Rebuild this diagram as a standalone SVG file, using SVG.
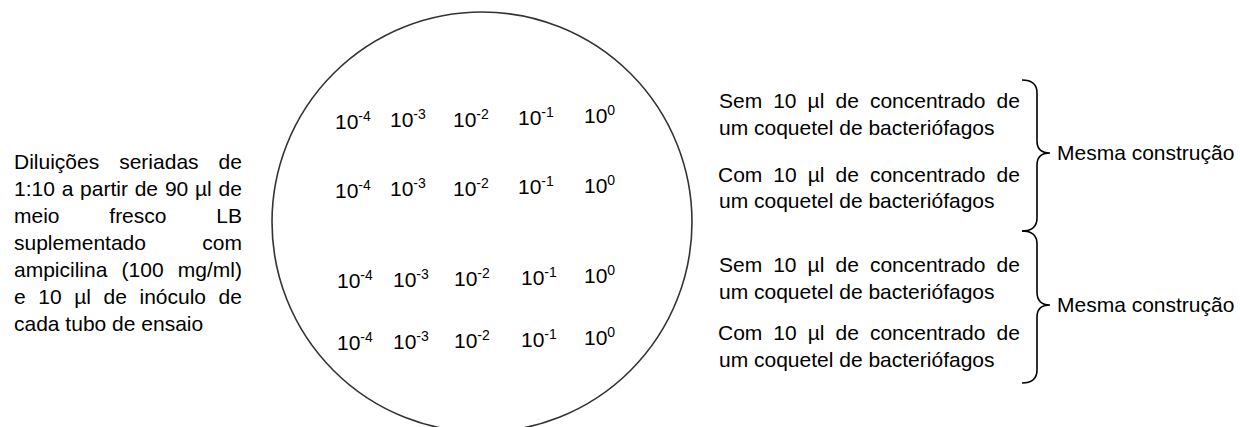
<svg xmlns="http://www.w3.org/2000/svg" width="1240" height="427" viewBox="0 0 1240 427">
<style>
text{font-family:"Liberation Sans",Arial,sans-serif;font-size:21px;fill:#000}
.sup{font-size:14px}
.plate{fill:none;stroke:#333;stroke-width:1.6}
.brace{fill:none;stroke:#000;stroke-width:1.6}
</style>
<rect width="1240" height="427" fill="#fff"/>
<g id="plate">
<circle class="plate" cx="482" cy="222" r="210"/>
</g>
<g id="dilutions">
<text x="335" y="129">10<tspan class="sup" dy="-8">-4</tspan></text>
<text x="390" y="127">10<tspan class="sup" dy="-8">-3</tspan></text>
<text x="453" y="127">10<tspan class="sup" dy="-8">-2</tspan></text>
<text x="518" y="125">10<tspan class="sup" dy="-8">-1</tspan></text>
<text x="584" y="123">10<tspan class="sup" dy="-8">0</tspan></text>
<text x="335" y="198">10<tspan class="sup" dy="-8">-4</tspan></text>
<text x="390" y="196">10<tspan class="sup" dy="-8">-3</tspan></text>
<text x="453" y="196">10<tspan class="sup" dy="-8">-2</tspan></text>
<text x="518" y="194">10<tspan class="sup" dy="-8">-1</tspan></text>
<text x="584" y="193">10<tspan class="sup" dy="-8">0</tspan></text>
<text x="337" y="288">10<tspan class="sup" dy="-8">-4</tspan></text>
<text x="393" y="287">10<tspan class="sup" dy="-8">-3</tspan></text>
<text x="454" y="286">10<tspan class="sup" dy="-8">-2</tspan></text>
<text x="521" y="285">10<tspan class="sup" dy="-8">-1</tspan></text>
<text x="584" y="283">10<tspan class="sup" dy="-8">0</tspan></text>
<text x="337" y="350">10<tspan class="sup" dy="-8">-4</tspan></text>
<text x="393" y="349">10<tspan class="sup" dy="-8">-3</tspan></text>
<text x="454" y="348">10<tspan class="sup" dy="-8">-2</tspan></text>
<text x="521" y="347">10<tspan class="sup" dy="-8">-1</tspan></text>
<text x="584" y="345">10<tspan class="sup" dy="-8">0</tspan></text>
</g>
<g id="left-note">
<text y="169"><tspan x="14">Diluições</tspan><tspan x="119.2">seriadas</tspan><tspan x="218.6">de</tspan></text>
<text y="196"><tspan x="14">1:10</tspan><tspan x="61.7">a</tspan><tspan x="80.1">partir</tspan><tspan x="134.7">de</tspan><tspan x="164.9">90</tspan><tspan x="195">µl</tspan><tspan x="218.6">de</tspan></text>
<text y="223"><tspan x="14">meio</tspan><tspan x="109.3">fresco</tspan><tspan x="216.3">LB</tspan></text>
<text y="250"><tspan x="14">suplementado</tspan><tspan x="202.3">com</tspan></text>
<text y="277"><tspan x="14">ampicilina</tspan><tspan x="121.6">(100</tspan><tspan x="177.8">mg/ml)</tspan></text>
<text y="304"><tspan x="14">e</tspan><tspan x="38.3">10</tspan><tspan x="74.2">µl</tspan><tspan x="103.6">de</tspan><tspan x="139.5">inóculo</tspan><tspan x="218.6">de</tspan></text>
<text x="14" y="331">cada tubo de ensaio</text>
</g>
<g id="row1-note">
<text y="108"><tspan x="719">Sem</tspan><tspan x="773.2">10</tspan><tspan x="807.6">µl</tspan><tspan x="835.5">de</tspan><tspan x="869.9">concentrado</tspan><tspan x="996.6">de</tspan></text>
<text x="719" y="135">um coquetel de bacteriófagos</text>
</g>
<g id="row2-note">
<text y="182"><tspan x="718">Com</tspan><tspan x="773.3">10</tspan><tspan x="807.7">µl</tspan><tspan x="835.5">de</tspan><tspan x="869.9">concentrado</tspan><tspan x="996.6">de</tspan></text>
<text x="719" y="208">um coquetel de bacteriófagos</text>
</g>
<g id="row3-note">
<text y="272"><tspan x="719">Sem</tspan><tspan x="773.2">10</tspan><tspan x="807.6">µl</tspan><tspan x="835.5">de</tspan><tspan x="869.9">concentrado</tspan><tspan x="996.6">de</tspan></text>
<text x="719" y="299">um coquetel de bacteriófagos</text>
</g>
<g id="row4-note">
<text y="340"><tspan x="718">Com</tspan><tspan x="773.3">10</tspan><tspan x="807.7">µl</tspan><tspan x="835.5">de</tspan><tspan x="869.9">concentrado</tspan><tspan x="996.6">de</tspan></text>
<text x="719" y="367">um coquetel de bacteriófagos</text>
</g>
<g id="connectors">
<path class="brace" d="M1022 80 Q1037 80 1037 93 L1037 141 Q1037 153 1050 153 Q1037 153 1037 165 L1037 218 Q1037 231 1022 231"/>
<path class="brace" d="M1022 231 Q1037 231 1037 244 L1037 292 Q1037 305 1050 305 Q1037 305 1037 317 L1037 370 Q1037 383 1022 383"/>
</g>
<g id="label-top">
<text x="1057" y="160">Mesma construção</text>
</g>
<g id="label-bottom">
<text x="1057" y="312">Mesma construção</text>
</g>
</svg>
